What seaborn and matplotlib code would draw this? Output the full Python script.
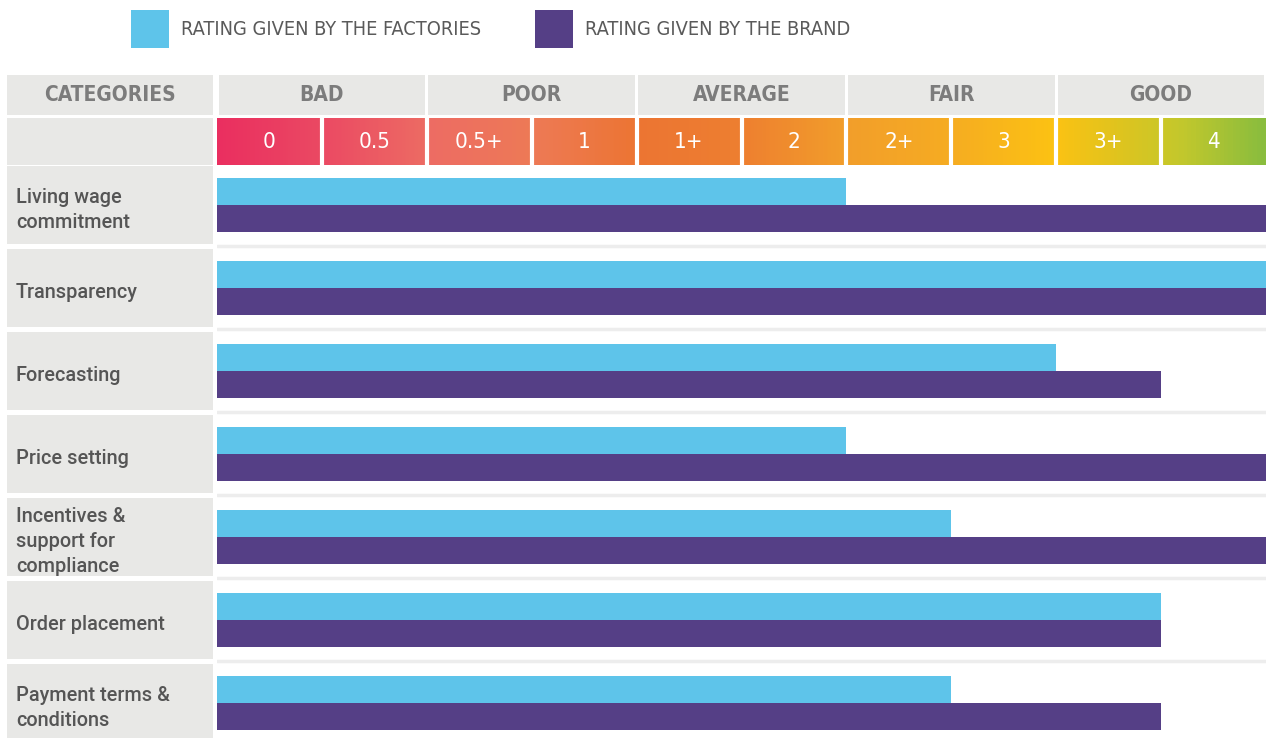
import pandas as pd
import numpy as np
import matplotlib
matplotlib.use("Agg")
import matplotlib.pyplot as plt
from matplotlib.colors import LinearSegmentedColormap
import seaborn as sns

# data
categories = ["Living wage\ncommitment", "Transparency", "Forecasting", "Price setting",
              "Incentives &\nsupport for\ncompliance", "Order placement",
              "Payment terms &\nconditions"]
scale = ["0", "0.5", "0.5+", "1", "1+", "2", "2+", "3", "3+", "4"]
grades = ["BAD", "POOR", "AVERAGE", "FAIR", "GOOD"]
factories = ["2", "4", "3", "2", "2+", "3+", "2+"]
brand = ["4", "4", "3+", "4", "4", "3+", "3+"]
series = ["RATING GIVEN BY THE FACTORIES", "RATING GIVEN BY THE BRAND"]

rows = []
for c, f, b in zip(categories, factories, brand):
    rows.append({"category": c, "source": series[0], "level": scale.index(f) + 1})
    rows.append({"category": c, "source": series[1], "level": scale.index(b) + 1})
df = pd.DataFrame(rows)

sns.set_theme(style="white")
plt.rcParams["font.family"] = ["DejaVu Sans"]

CYAN = "#5ec4ea"
PURPLE = "#553f86"
CELL = "#e8e8e6"
W, H = 1269, 738


def box(x0, y0, x1, y1):
    return [x0 / W, 1 - y1 / H, (x1 - x0) / W, (y1 - y0) / H]


fig = plt.figure(figsize=(W / 100, H / 100), dpi=100)

# bars
ax = fig.add_axes(box(217, 163.5, 1266, 744.5))
sns.barplot(data=df, x="level", y="category", hue="source", palette=[CYAN, PURPLE],
            saturation=1, width=0.66, linewidth=0, ax=ax)
ax.set_xlim(0, 10)
ax.set_ylim(len(categories) - 0.5, -0.5)
for i in range(len(categories)):
    ax.axhline(i + 0.5, color="#ededed", lw=2.5, zorder=0)
ax.set_xlabel("")
ax.set_ylabel("")
ax.set_xticks([])
ax.set_yticks([])
sns.despine(ax=ax, left=True, bottom=True)

handles, labels = ax.get_legend_handles_labels()
ax.legend_.remove()
leg = fig.legend(handles, labels, loc="upper left", bbox_to_anchor=(131 / W, 1 - 10 / H),
                 ncol=2, frameon=False, borderpad=0, borderaxespad=0,
                 handlelength=1.9, handleheight=2.6, handletextpad=0.62,
                 columnspacing=2.7, prop={"size": 14.3, "stretch": "condensed"})
for t in leg.get_texts():
    t.set_color("#5a5a5a")

# category labels column
lab = fig.add_axes(box(7, 163.5, 213, 744.5), sharey=ax)
lab.set_xlim(0, 1)
for i, c in enumerate(categories):
    lab.axhspan(i - 0.5 + 0.03, i + 0.5 - 0.03, color=CELL, lw=0)
    lab.text(0.043, i + 0.06, c, ha="left", va="center", fontsize=14.3, color="#555555",
             family="Roboto", weight="medium", linespacing=1.4)
lab.axis("off")

# header: categories cell
hc = fig.add_axes(box(7, 75, 213, 115))
hc.set_facecolor(CELL)
hc.set_xticks([])
hc.set_yticks([])
for s in hc.spines.values():
    s.set_visible(False)
hc.text(0.5, 0.5, "CATEGORIES", ha="center", va="center", fontsize=15,
        color="#7c7c7c", weight="bold", stretch="condensed", transform=hc.transAxes)

# header: grade groups
hg = fig.add_axes(box(217, 75, 1266, 115))
hg.set_xlim(0, 10)
hg.set_ylim(0, 1)
for k, g in enumerate(grades):
    hg.axvspan(2 * k + 0.015, 2 * k + 2 - 0.015, color=CELL, lw=0)
    hg.text(2 * k + 1, 0.5, g, ha="center", va="center", fontsize=15,
            color="#7c7c7c", weight="bold", stretch="condensed")
hg.axis("off")

# empty cell next to scale
he = fig.add_axes(box(7, 118, 213, 165))
he.set_facecolor(CELL)
he.set_xticks([])
he.set_yticks([])
for s in he.spines.values():
    s.set_visible(False)

# scale gradient row
hs = fig.add_axes(box(217, 118, 1266, 165))
cmap = LinearSegmentedColormap.from_list("rating", [
    (0.0, "#ea2f60"), (0.1, "#eb4a63"), (0.2, "#ed6c64"), (0.3, "#ee7a56"),
    (0.4, "#ec7533"), (0.5, "#ee7f30"), (0.6, "#f29e2b"), (0.7, "#f6ac22"),
    (0.8, "#fcc213"), (0.86, "#e0c41e"), (0.92, "#c4c82c"), (1.0, "#8abd3e")])
hs.imshow(np.linspace(0, 1, 600).reshape(1, -1), extent=(0, 10, 0, 1),
          aspect="auto", cmap=cmap)
hs.set_xlim(0, 10)
hs.set_ylim(0, 1)
for i in range(1, len(scale)):
    hs.axvline(i, color="white", lw=3)
for i, s in enumerate(scale):
    hs.text(i + 0.5, 0.5, s, ha="center", va="center", fontsize=16, color="white",
            stretch="condensed")
hs.axis("off")

fig.savefig("out.png", dpi=100)
